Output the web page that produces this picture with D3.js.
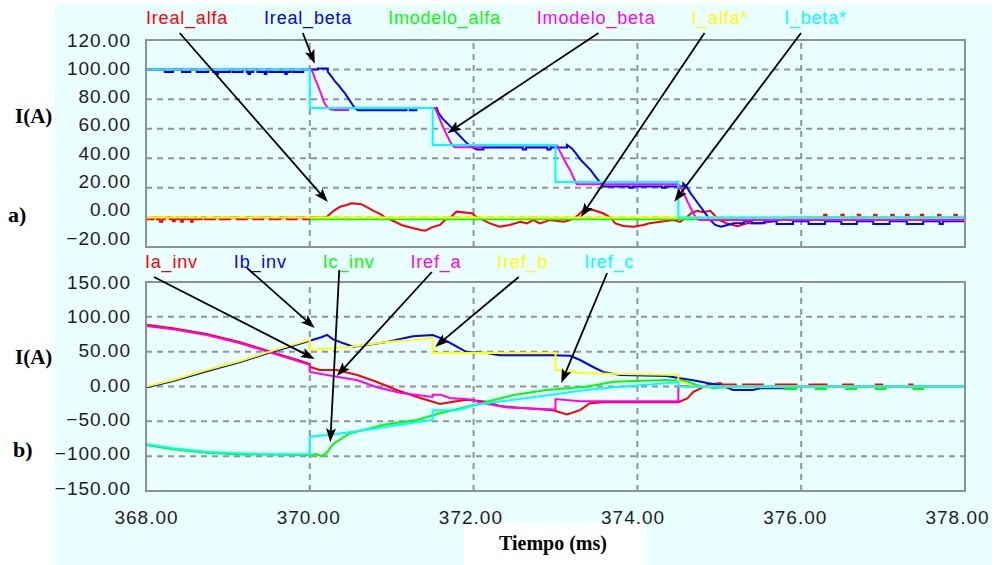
<!DOCTYPE html>
<html>
<head>
<meta charset="utf-8">
<script src="https://cdn.jsdelivr.net/npm/d3@7"></script>
<style>
  body { margin: 0; background: #fff; }
  svg { display: block; }
</style>
</head>
<body>
<script>
// ---- data ----
const topLabels = ['Ireal_alfa', 'Ireal_beta', 'Imodelo_alfa', 'Imodelo_beta', 'I_alfa*', 'I_beta*'];
const botLabels = ['Ia_inv', 'Ib_inv', 'Ic_inv', 'Iref_a', 'Iref_b', 'Iref_c'];
const colors = ['#ff0000', '#0000ff', '#00ff00', '#ff00ff', '#ffff00', '#00ffff'];

const xTicks = [368, 370, 372, 374, 376, 378];
const topTicks = [-20, 0, 20, 40, 60, 80, 100, 120];
const botTicks = [-150, -100, -50, 0, 50, 100, 150];

// top panel, [time ms, current A, ramp?]: held as a step unless the point is flagged as reached by a ramp
const irealAlfa = [[368.00,-1.2],[368.09,0],[368.13,-1.2],[368.17,-3],[368.2,-1.2],[368.23,0],[368.29,-1.2],[368.33,-2.6],
  [368.35,-1.2],[368.38,0],[368.39,-1.2],[368.43,-3],[368.45,-1.2],[368.48,0],[368.51,-1.2],[368.55,-3],[368.57,-1.2],
  [368.6,0],[368.62,-1.2],[368.68,0],[368.72,-1.2],[368.84,0],[368.9,-1.2],[369.03,0],[369.11,-1.2],[369.23,0],
  [369.31,-1.2],[369.43,0],[369.51,-1.2],[369.64,0],[369.72,-1.2],[369.84,0],[369.92,-1.2],[370.0,0],
  [370.2,0,1],[370.29,4.5,1],[370.37,7.2,1],[370.45,8.4,1],[370.51,9.5,1],[370.63,9,1],[370.69,7.2,1],[370.78,4.5,1],
  [370.86,2.3,1],[370.92,0,1],[371.04,-2.9,1],[371.12,-5.1,1],[371.22,-6.7,1],[371.35,-8.5,1],[371.41,-9,1],
  [371.49,-6.7,1],[371.59,-5.1,1],[371.65,-1.8,1],[371.72,0,1],[371.79,3.9,1],[371.98,2.8,1],[372.04,0,1],
  [372.12,-1.8,1],[372.2,-4,1],[372.32,-6.3,1],[372.44,-5.1,1],[372.57,-2.9,1],[372.65,-4,1],[372.73,-1.8,1],
  [372.81,-4,1],[372.93,-1.8,1],[373.1,-2.9,1],[373.18,-1.8,1],[373.28,1.6,1],[373.34,5,1],[373.46,5,1],
  [373.58,2.8,1],[373.67,0,1],[373.73,-4,1],[373.83,-5.8,1],[373.95,-6.3,1],[374.07,-5.1,1],[374.15,-4,1],
  [374.28,-2.9,1],[374.44,-1.8,1],[374.52,-3,1],[374.6,0,1],[374.66,3,1],[374.73,4.5,1],[374.8,3.5,1],[374.89,4.5,1],
  [374.95,1,1],[375.01,-2,1],[375.09,-4,1],[375.22,-6,1],[375.34,-4,1],[375.5,-4,1],[375.68,-2.5,1],[375.86,0,1],
  [376.28,1.8],[376.31,0],[376.49,1.8],[376.52,0],[376.69,1.8],[376.72,0],[376.89,1.8],[376.92,0],[377.1,1.8],
  [377.13,0],[377.28,1.8],[377.31,0],[377.46,1.8],[377.49,0],[377.67,1.8],[377.7,0],[377.87,1.8],[377.9,0],[378,0]];

const irealBeta = [[368,100],[368.23,98.3],[368.33,100],[368.44,98.3],[368.54,100],[368.62,98.3],[368.76,100],
  [368.82,98.3],[368.86,97],[368.88,98.3],[369.03,100],[369.06,98.3],[369.18,100],[369.23,98.3],[369.25,97],
  [369.27,98.3],[369.31,100],[369.36,98.3],[369.45,97],[369.47,98.3],[369.48,100],[369.51,98.3],[369.64,100],
  [369.66,98.3],[369.7,97],[369.72,98.3],[369.76,100],[369.79,98.3],[369.92,100],
  [370.1,100.8],[370.22,98.5],[370.27,95,1],[370.31,91.8,1],[370.35,89.5,1],[370.39,86.6,1],[370.43,83.9,1],
  [370.47,80.5,1],[370.51,77.2,1],[370.55,73.8,1],[370.59,72.5,1],[371.18,74],[371.22,72.5],[371.3,74],[371.55,74],
  [371.57,70.8,1],[371.62,67,1],[371.68,63.6,1],[371.74,60.3,1],[371.8,56.9,1],[371.86,53.5,1],[371.92,50.1,1],
  [371.97,47.8,1],[372.04,46,1],[372.12,47.3],[372.6,46],[372.64,47.3],[372.9,46],[372.94,47.3],
  [373.14,49],[373.2,46.7,1],[373.25,43.3,1],[373.31,38.8,1],[373.37,35.4,1],[373.43,32,1],[373.49,27.5,1],
  [373.54,24.1,1],[373.58,21,1],[373.9,20],[373.94,21],[374.3,20],[374.34,21],
  [374.56,23],[374.6,20.8,1],[374.65,16.3,1],[374.71,11.8,1],[374.77,7.2,1],[374.83,2.8,1],[374.89,-1.8,1],
  [374.95,-5.1,1],[375.02,-6.3,1],[375.1,-5.1,1],[375.18,-4,1],[375.3,-2.6],[375.4,-4],[375.55,-2.6],[375.7,-4.5],
  [375.9,-2.6],[376.09,-4.5],[376.29,-2.6],[376.49,-4.5],[376.68,-2.6],[376.88,-4.5],[377.08,-2.6],[377.29,-4.5],
  [377.49,-2.6],[377.69,-4.5],[377.73,-2.6],[378,-2.6]];

const imodeloAlfa = [[370,-1.3],[378,-1.3]];

const imodeloBeta = [[368,100],[370.02,100],[370.04,97.5,1],[370.06,94.1,1],[370.09,90.7,1],[370.12,86.2,1],
  [370.15,81.6,1],[370.18,77.2,1],[370.21,74.9,1],[370.25,73.1,1],[370.31,72.6,1],[370.47,74],
  [371.53,74],[371.56,70,1],[371.59,66,1],[371.62,62,1],[371.65,58.5,1],[371.68,55,1],[371.71,51.5,1],[371.74,49,1],
  [371.77,47.5,1],[372.1,48.7],
  [373.02,49],[373.04,46,1],[373.07,43,1],[373.09,40.8,1],[373.13,36.5,1],[373.18,32,1],[373.21,28,1],
  [373.24,24.5,1],[373.26,22.5,1],
  [374.5,22.5],[374.53,20,1],[374.56,17.2,1],[374.59,13.5,1],[374.62,9.7,1],[374.65,6.5,1],[374.68,3,1],
  [374.72,-0.5,1],[374.76,-1.8,1],[378,-1.8]];

const iAlfaRef = [[368,0],[378,0]];
const iBetaRef = [[368,100],[370,74],[371.5,49],[373,24],[374.5,0],[378,0]];

// bottom panel, [time ms, current A], drawn as polylines
const iaInv = [[368,88.5],[368.33,83.5],[368.74,75.5],[369.15,63.5],[369.55,49],[369.88,37],[370,32.5],[370,28.4],
  [370.12,23.7],[370.33,23.7],[370.58,16.5],[370.82,6.5],[371.06,-5],[371.31,-15],[371.5,-22],[371.59,-25],
  [371.75,-22],[371.92,-19],[372.16,-22],[372.32,-28],[372.6,-31],[372.97,-34],[373.14,-40],[373.3,-34],
  [373.42,-24],[373.58,-22.5],[374.5,-22.5],[374.61,-17],[374.68,-8],[374.85,2],[375.01,5],[375.04,3],[375.2,3],
  [375.2,0],[375.29,0],[375.29,3],[375.53,3],[375.53,0],[375.69,0],[375.69,3],[375.94,3],[375.94,0],[376.1,0],
  [376.1,3],[376.31,3],[376.31,0],[376.51,0],[376.51,3],[376.63,3],[376.63,0],[376.91,0],[376.91,3],[376.99,3],
  [376.99,0],[377.32,0],[377.32,3],[377.36,3],[377.36,0],[378,0]];

const ibInv = [[368,-1.5],[368.33,8],[368.74,22],[369.15,35],[369.55,50],[370,65.5],[370.04,67],[370.15,71],
  [370.21,74],[370.28,68],[370.41,62],[370.53,57],[370.7,59.5],[370.94,64],[371.26,72],[371.5,74],[371.63,68],
  [371.8,57],[371.92,49],[372.16,48],[372.32,45],[372.97,45],[373.18,44],[373.3,38],[373.46,28],[373.58,21],
  [373.79,16.5],[374.36,15],[374.52,12],[374.68,9],[374.85,5],[375.01,2],[375.17,-5],[375.41,-5],[375.5,-2.6],
  [375.9,-2.6],[376,0],[378,0]];

const icInv = [[368,-84],[368.33,-90],[368.74,-95],[369.15,-97.5],[370,-98.5],[370.08,-97],[370.14,-100],
  [370.2,-96],[370.29,-82],[370.49,-67],[370.69,-61.5],[370.9,-55],[371.31,-48],[371.59,-38.5],[371.92,-29],
  [372.16,-22],[372.49,-12.2],[372.89,-5],[373.38,-0.3],[373.71,6.9],[374.36,9.3],[374.6,7.9],[374.72,2.2],
  [374.93,-2.2],[375.1,-1],[375.81,-1],[375.81,-3.6],[375.94,-3.6],[375.94,0],[376.18,0],[376.18,-3.6],[376.3,-3.6],
  [376.3,0],[376.55,0],[376.55,-3.6],[376.67,-3.6],[376.67,0],[376.91,0],[376.91,-3.6],[377.03,-3.6],[377.03,0],
  [377.37,0],[377.37,-3.6],[377.49,-3.6],[377.49,0],[378,0]];

const irefA = [[368,87],[368.33,82],[368.74,74],[369.15,62],[369.55,47.6],[369.88,35.6],[370,31],[370,21],
  [370.28,15],[370.58,9],[370.82,-1],[371.1,-9],[371.5,-15],[371.5,-12],[371.6,-12],[371.71,-16.5],[371.99,-19],
  [372.08,-23],[372.41,-30],[373,-33],[373,-18],[373.3,-21],[374.5,-21],[374.5,1],[374.7,0],[378,0]];

const irefB = [[368,0],[368.33,9.3],[368.74,23.7],[369.15,36.6],[369.55,51.5],[370,67],[370,52],[370.5,57],
  [370.94,64],[371.5,70],[371.5,48],[373,48],[373,24],[373.35,19],[374.5,16.5],[374.5,8],[374.6,4],[374.7,0],[378,0]];

const irefC = [[368,-82.5],[368.33,-88.7],[368.74,-93.6],[369.15,-95.9],[369.55,-97.3],[370,-97.3],[370,-72],
  [370.28,-69],[370.7,-62],[371.1,-55],[371.5,-48],[371.5,-34],[371.8,-34],[372.08,-25],[372.49,-19],[373,-11],
  [373.3,-6],[373.71,-1],[374.5,6],[374.5,0],[378,0]];

const topSeries = [irealAlfa, irealBeta, imodeloAlfa, imodeloBeta, iAlfaRef, iBetaRef];
const botSeries = [iaInv, ibInv, icInv, irefA, irefB, irefC];

// arrows: label index, start [fraction of label width, px below label], tip [time, current]
const topArrowFrom = [0, 1, 3, 4, 5];
const topArrowStart = [[0.41, 15], [0.44, 15], [0.52, 15], [0.23, 15], [0.27, 15]];
const topArrowTip = [[370.22, 10.4], [370.06, 104], [371.68, 57], [373.31, 0.3], [374.45, 10.6]];
const botArrowFrom = [0, 1, 2, 3, 4, 5];
const botArrowStart = [[0.17, 15], [0.25, 6], [0.32, 8], [0.42, 10], [0.42, 15], [0.46, 11]];
const botArrowTip = [[370.06, 39.5], [370.06, 84], [370.25, -80], [370.33, 15], [371.53, 56.7], [373.07, 5]];

// ---- layout ----
const W = 996, H = 565;
const bg = '#eaffff';
const gridColor = '#8c949c';
const tickFont = '"Liberation Sans", Arial, sans-serif';
const serif = '"Liberation Serif", "Times New Roman", serif';

// sampled signal: hold each value until the next sample, except where a ramp is flagged
function holdSteps(pts) {
  const out = [pts[0]];
  for (let i = 1; i < pts.length; i++) {
    if (!pts[i][2]) out.push([pts[i][0], pts[i - 1][1]]);
    out.push([pts[i][0], pts[i][1]]);
  }
  return out;
}

const svg = d3.select('body').append('svg')
  .attr('width', W)
  .attr('height', H);

const defs = svg.append('defs');
defs.append('marker')
  .attr('id', 'ah')
  .attr('markerUnits', 'userSpaceOnUse')
  .attr('markerWidth', 16)
  .attr('markerHeight', 12)
  .attr('refX', 6)
  .attr('refY', 5)
  .attr('orient', 'auto')
  .append('path')
  .attr('d', 'M0,0 L14,5 L0,10 L3,5 Z')
  .attr('fill', '#000');

svg.append('rect').attr('x', 54).attr('y', 4).attr('width', 938).attr('height', 561).attr('fill', bg);
svg.append('rect').attr('x', 464).attr('y', 523).attr('width', 182).attr('height', 42).attr('fill', '#fff');

// scales
const x = d3.scaleLinear().domain([368, 378]).range([146, 965]);
const xLab = d3.scaleLinear().domain([368, 378]).range([146, 957]);
const yTop = d3.scaleLinear().domain([-20, 120]).range([247, 40]);
const yTopLab = d3.scaleLinear().domain([-20, 120]).range([238, 40]);
const yBot = d3.scaleLinear().domain([-150, 150]).range([491, 282]);
const yBotLab = d3.scaleLinear().domain([-150, 150]).range([488, 282]);

function panel(y, yLab, ticks, series) {
  const [y0, y1] = y.range();
  const g = svg.append('g');

  // grid
  g.selectAll('.hg')
    .data(ticks.slice(1, -1))
    .enter().append('line')
    .attr('x1', x.range()[0]).attr('x2', x.range()[1])
    .attr('y1', d => y(d)).attr('y2', d => y(d))
    .attr('stroke', gridColor).attr('stroke-width', 2).attr('stroke-dasharray', '6,5');
  g.selectAll('.vg')
    .data(xTicks.slice(1, -1))
    .enter().append('line')
    .attr('x1', d => x(d)).attr('x2', d => x(d))
    .attr('y1', y0).attr('y2', y1)
    .attr('stroke', gridColor).attr('stroke-width', 2).attr('stroke-dasharray', '6,5');

  // curves
  const line = d3.line()
    .x(d => x(d[0]))
    .y(d => y(d[1]));
  g.selectAll('.s')
    .data(series)
    .enter().append('path')
    .attr('d', line)
    .attr('fill', 'none')
    .attr('stroke', (d, i) => colors[i])
    .attr('stroke-width', 2);

  // frame
  g.append('rect')
    .attr('x', x.range()[0]).attr('y', y1)
    .attr('width', x.range()[1] - x.range()[0]).attr('height', y0 - y1)
    .attr('fill', 'none').attr('stroke', '#8a9199').attr('stroke-width', 2);

  // y tick labels
  const ax = svg.append('g')
    .attr('transform', 'translate(131,0)')
    .call(d3.axisLeft(yLab).tickValues(ticks).tickFormat(d3.format('.2f')).tickSize(0).tickPadding(0));
  ax.select('.domain').remove();
  ax.selectAll('text')
    .attr('font-family', tickFont).attr('font-size', 19).attr('letter-spacing', 1)
    .attr('fill', '#1e1e1e');
}

panel(yTop, yTopLab, topTicks, topSeries.map(holdSteps));
panel(yBot, yBotLab, botTicks, botSeries);

// x tick labels
const xa = svg.append('g')
  .attr('transform', 'translate(0,517)')
  .call(d3.axisBottom(xLab).tickValues(xTicks).tickFormat(d3.format('.2f')).tickSize(0).tickPadding(0));
xa.select('.domain').remove();
xa.selectAll('text')
  .attr('dy', '0.35em')
  .attr('font-family', tickFont).attr('font-size', 19).attr('letter-spacing', 1)
  .attr('fill', '#1e1e1e');

// legends laid out left to right
function legend(labels, x0, yc) {
  const boxes = [];
  let cx = x0;
  labels.forEach((t, i) => {
    const txt = svg.append('text')
      .attr('x', cx).attr('y', yc).attr('dy', '0.35em')
      .attr('font-family', tickFont).attr('font-size', 18).attr('letter-spacing', 0.8)
      .attr('fill', colors[i])
      .text(t);
    const w = txt.node().getComputedTextLength();
    boxes.push({ x: cx, w: w, y: yc });
    cx += w + 36;
  });
  return boxes;
}
const topBoxes = legend(topLabels, 146, 18);
const botBoxes = legend(botLabels, 145, 262);

// arrows from legend labels to curves
function arrows(boxes, from, start, tip, y) {
  from.forEach((li, k) => {
    const b = boxes[li];
    const sx = b.x + start[k][0] * b.w, sy = b.y + start[k][1];
    const tx = x(tip[k][0]), ty = y(tip[k][1]);
    const len = Math.hypot(tx - sx, ty - sy);
    const ex = tx - (tx - sx) / len * 8, ey = ty - (ty - sy) / len * 8;
    svg.append('line')
      .attr('x1', sx).attr('y1', sy).attr('x2', ex).attr('y2', ey)
      .attr('stroke', '#000').attr('stroke-width', 1.8)
      .attr('marker-end', 'url(#ah)');
  });
}
arrows(topBoxes, topArrowFrom, topArrowStart, topArrowTip, yTop);
arrows(botBoxes, botArrowFrom, botArrowStart, botArrowTip, yBot);

// axis titles
svg.append('text').attr('x', 15).attr('y', 123)
  .attr('font-family', serif).attr('font-weight', 'bold').attr('font-size', 21).text('I(A)');
svg.append('text').attr('x', 15).attr('y', 364)
  .attr('font-family', serif).attr('font-weight', 'bold').attr('font-size', 21).text('I(A)');
svg.append('text').attr('x', 8).attr('y', 222)
  .attr('font-family', serif).attr('font-weight', 'bold').attr('font-size', 22).text('a)');
svg.append('text').attr('x', 13).attr('y', 457)
  .attr('font-family', serif).attr('font-weight', 'bold').attr('font-size', 22).text('b)');
svg.append('text').attr('x', 499).attr('y', 550)
  .attr('font-family', serif).attr('font-weight', 'bold').attr('font-size', 20).text('Tiempo (ms)');
</script>
</body>
</html>
